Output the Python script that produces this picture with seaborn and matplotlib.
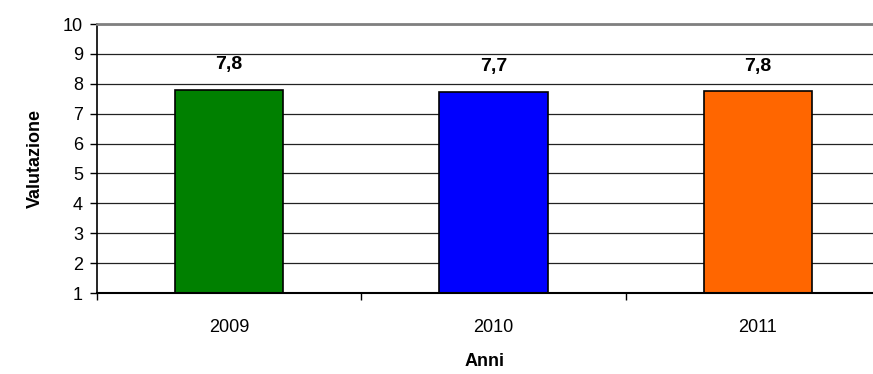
import matplotlib
matplotlib.use("Agg")
import matplotlib.pyplot as plt
import seaborn as sns
import pandas as pd

# data
anni = ["2009", "2010", "2011"]
valutazione = [7.80, 7.74, 7.75]
etichette = ["7,8", "7,7", "7,8"]
colori = ["#008000", "#0000FF", "#FF6600"]

df = pd.DataFrame({"Anni": anni, "Valutazione": valutazione})

sns.set_style("white")
plt.rcParams["font.family"] = ["Liberation Sans", "DejaVu Sans"]
plt.rcParams["text.color"] = "black"
plt.rcParams["axes.labelcolor"] = "black"
plt.rcParams["xtick.color"] = "black"
plt.rcParams["ytick.color"] = "black"

fig = plt.figure(figsize=(8.73, 3.74), dpi=100)
ax = fig.add_axes([97 / 873, 1 - 293 / 374, 1 - 97 / 873, (293 - 24) / 374])

sns.barplot(data=df, x="Anni", y="Valutazione", hue="Anni", palette=colori,
            saturation=1, width=0.41, edgecolor="black", linewidth=1.2,
            legend=False, ax=ax)

# value labels above the bars
for cont, lab in zip(ax.containers, etichette):
    ax.bar_label(cont, labels=[lab], padding=12, fontsize=14, fontweight="bold")

ax.set_ylim(1, 10)
ax.set_xlim(-0.5, 2.436)
ax.set_yticks(range(1, 11))
ax.set_axisbelow(True)
ax.yaxis.grid(True, color="#222222", linewidth=0.9)

# ticks: labels on categories, marks on the boundaries
ax.set_xticks([-0.5, 0.5, 1.5], minor=True)
ax.tick_params(axis="x", which="major", length=0, pad=19, labelsize=13, bottom=True)
ax.tick_params(axis="x", which="minor", length=5, width=1, direction="out", bottom=True)
ax.tick_params(axis="y", which="major", length=5, width=1, direction="out", pad=5,
               labelsize=13, left=True)

ax.spines["right"].set_visible(False)
ax.spines["top"].set_color("#808080")
ax.spines["top"].set_linewidth(2)
ax.spines["left"].set_color("black")
ax.spines["left"].set_linewidth(1.2)
ax.spines["bottom"].set_color("black")
ax.spines["bottom"].set_linewidth(1.5)

ax.set_xlabel("Anni", fontsize=13, fontweight="bold", labelpad=12)
ax.set_ylabel("Valutazione", fontsize=13, fontweight="bold", labelpad=14)

fig.savefig("out.png", dpi=100)
